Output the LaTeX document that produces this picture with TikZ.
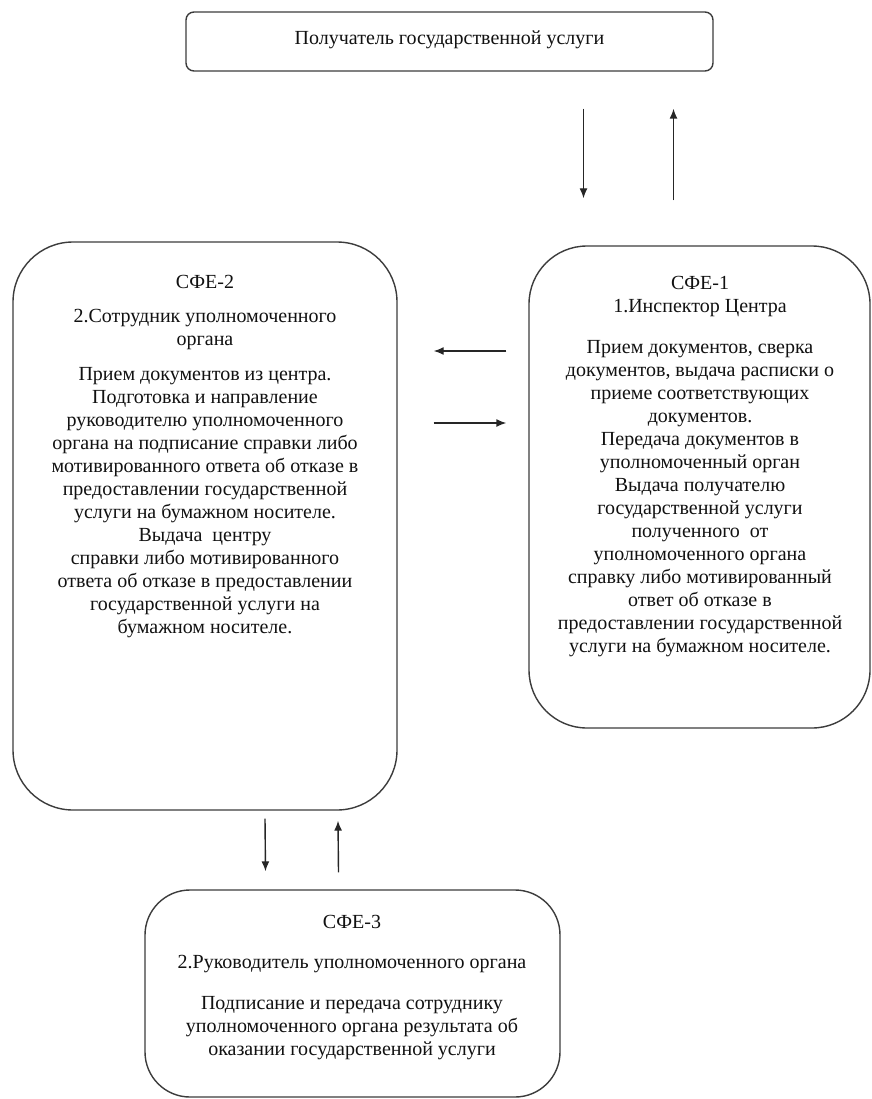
\documentclass[tikz,border=0pt]{standalone}
\usepackage{fontspec}
\setmainfont{Liberation Serif}
\usepackage{xcolor}
\usepackage{tikz}
\usetikzlibrary{arrows.meta,calc,positioning}
\definecolor{SfeLine}{HTML}{3C3C3C}
\definecolor{SfeText}{HTML}{111111}
\tikzset{
  >=Latex,
  stagebox/.style={draw=SfeLine,line width=1.4pt,fill=white,inner sep=0pt},
  recipientbox/.style={stagebox,rounded corners=8pt,minimum width=527pt,minimum height=59pt},
  boxtext/.style={align=center,inner sep=0pt,anchor=north,text=SfeText,
    font=\fontsize{20}{23}\selectfont},
  flow/.style={-{Latex[length=10pt,width=8pt]},line width=1.4pt,draw=black!85}
}

\begin{document}
\begin{tikzpicture}[x=1pt,y=-1pt]
  \useasboundingbox (0,0) rectangle (871,1099);
  % boxes
  \node[recipientbox] (recipient) at (449.5,41.5) {};
  \node[stagebox,rounded corners=60pt,minimum width=384pt,minimum height=568pt] (sfeTwo) at (205,526) {};
  \node[stagebox,rounded corners=58pt,minimum width=341pt,minimum height=482pt] (sfeOne) at (699.5,487) {};
  \node[stagebox,rounded corners=45pt,minimum width=415pt,minimum height=207pt] (sfeThree) at (352.5,993.5) {};
  % texts
  \node[boxtext] (recipientText) at (449.5,31) {Получатель государственной услуги};
  \node[boxtext] (sfeTwoText) at (205,275) {СФЕ-2\\[11pt]
    2.Сотрудник уполномоченного\\органа\\[12pt]
    Прием документов из центра.\\Подготовка и направление\\
    руководителю уполномоченного\\органа на подписание справки либо\\
    мотивированного ответа об отказе в\\предоставлении государственной\\
    услуги на бумажном носителе.\\Выдача\ \ центру\\
    справки либо мотивированного\\ответа об отказе в предоставлении\\
    государственной услуги на\\бумажном носителе.};
  \node[boxtext] (sfeOneText) at (700,276) {СФЕ-1\\1.Инспектор Центра\\[18pt]
    Прием документов, сверка\\документов, выдача расписки о\\
    приеме соответствующих\\документов.\\Передача документов в\\
    уполномоченный орган\\Выдача получателю\\государственной услуги\\
    полученного\ \ от\\уполномоченного органа\\справку либо мотивированный\\
    ответ об отказе в\\предоставлении государственной\\услуги на бумажном носителе.};
  \node[boxtext] (sfeThreeText) at (352,915) {СФЕ-3\\[17pt]
    2.Руководитель уполномоченного органа\\[18pt]
    Подписание и передача сотруднику\\уполномоченного органа результата об\\
    оказании государственной услуги};
  % connectors
  \draw[flow] ($(recipient.south)+(134,37)$) -- ($(sfeOne.north)+(-116,-47)$);
  \draw[flow] ($(sfeOne.north)+(-26,-45)$) -- ($(recipient.south)+(224,37)$);
  \draw[flow] ($(sfeOne.west)+(-22,-136)$) -- ($(sfeTwo.east)+(36,-175)$);
  \draw[flow] ($(sfeTwo.east)+(36,-103)$) -- ($(sfeOne.west)+(-22,-64)$);
  \draw[flow] ($(sfeTwo.south)+(60,8)$) -- ($(sfeThree.north)+(-87,-18)$);
  \draw[flow] ($(sfeThree.north)+(-14,-17)$) -- ($(sfeTwo.south)+(133,10)$);
\end{tikzpicture}
\end{document}
